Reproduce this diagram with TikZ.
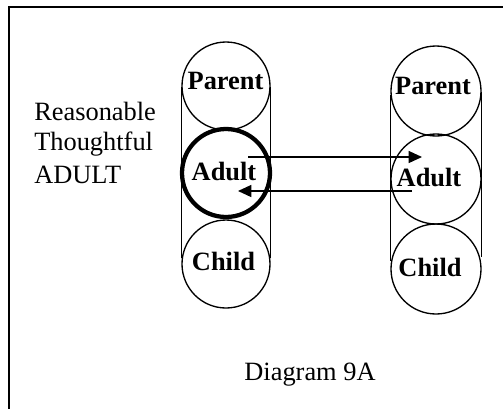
\documentclass[tikz,border=0pt]{standalone}
\usepackage{fontspec}
\setmainfont{Liberation Serif}
\usetikzlibrary{arrows.meta}
\begin{document}
\begin{tikzpicture}[x=0.75pt,y=-0.75pt,
  ringL/.style={circle,draw,line width=1pt,minimum size=66pt,inner sep=0pt},
  ringR/.style={circle,draw,line width=1pt,minimum size=67.5pt,inner sep=0pt},
  strong/.style={line width=3.2pt},
  rail/.style={line width=1pt},
  lbl/.style={font=\bfseries\fontsize{19.8}{23}\selectfont,anchor=base,inner sep=0pt},
  note/.style={font=\fontsize{19.8}{23}\selectfont,anchor=base west,inner sep=0pt},
  flow/.style={line width=1pt,-{Triangle[length=10pt,width=9pt]}}]
\useasboundingbox (0,0) rectangle (503,408);
\clip (0,0) rectangle (503,408);
% outer frame (right and bottom edges fall outside the page)
\draw[line width=1.5pt] (8.5,6.5) rectangle (520,430);

% left ego-state stack
\node[ringL] (pL) at (226,86) {};
\node[ringL] (cL) at (226,264) {};
\draw[rail] ([yshift=-0.75pt]pL.west) -- ([yshift=4.5pt]cL.west);
\draw[rail] ([yshift=-0.75pt]pL.east) -- ([yshift=4.5pt]cL.east);
\node[ringL,strong] (aL) at (226,173) {};
\node[lbl] (pLt) at (225.5,89.3) {Parent};
\node[lbl] (aLt) at (224,180) {Adult};
\node[lbl] (cLt) at (223.5,270.7) {Child};

% right ego-state stack
\node[ringR] (pR) at (436,91) {};
\node[ringR] (aR) at (436,179) {};
\node[ringR] (cR) at (436,269) {};
\draw[rail] ([yshift=-3pt]pR.west) -- ([yshift=6pt]cR.west);
\draw[rail] ([yshift=-0.75pt]pR.east) -- ([yshift=9pt]cR.east);
\node[lbl] (pRt) at (433,94.3) {Parent};
\node[lbl] (aRt) at (429,186) {Adult};
\node[lbl] (cRt) at (430,276) {Child};

% transactions between the two Adults
\coordinate (s1) at (248,157);
\coordinate (e1) at (422,157);
\coordinate (s2) at (412,191);
\coordinate (e2) at (238,191);
\draw[flow] (s1) -- (e1);
\draw[flow] (s2) -- (e2);

% captions
\node[note] (t1) at (34,120) {Reasonable};
\node[note] (t2) at (34,150) {Thoughtful};
\node[note] (t3) at (34,183) {ADULT};
\node[note,anchor=base] (cap) at (310,380) {Diagram 9A};
\end{tikzpicture}
\end{document}
